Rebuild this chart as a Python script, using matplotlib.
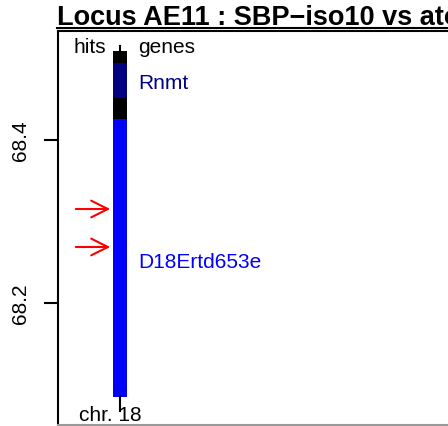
import matplotlib.pyplot as plt
from matplotlib.lines import Line2D

plt.rcParams['font.family'] = ['Liberation Sans', 'DejaVu Sans']

title = "Locus AE11 : SBP\u2212iso10 vs atorvastatin"
chrom_label = "chr. 18"

# chromosome band segments (Mb)
seg_start = [68.4945, 68.4515, 68.4258, 68.0847]
seg_end = [68.5090, 68.4945, 68.4515, 68.4258]
seg_color = ["black", "#000080", "black", "#0000FF"]

# gene labels
gene_names = ["Rnmt", "D18Ertd653e"]
gene_pos = [68.4700, 68.2510]
gene_color = ["#000080", "#0000FF"]

# hits (arrows)
hit_pos = [68.3153, 68.2687]

yticks = [68.2, 68.4]
ylim = (68.0503, 68.5337)

W, H = 448, 427
fig = plt.figure(figsize=(W / 100, H / 100), dpi=100)
ax = fig.add_axes([58 / W, 1 / H, 600 / W, 394 / H])
ax.set_xlim(-62, 538)
ax.set_ylim(*ylim)

bar_w = 14
for s, e, c in zip(seg_start, seg_end, seg_color):
    ax.bar(0, e - s, bottom=s, width=bar_w, color=c, edgecolor="none")

# top and bottom ticks of chromosome
ax.plot([0, 0], [seg_end[0], seg_end[0] + 0.0065], color="black", lw=1.5)
ax.plot([0, 0], [seg_start[-1], seg_start[-1] - 0.017], color="black", lw=1.5)

for name, p, c in zip(gene_names, gene_pos, gene_color):
    ax.text(18, p, name, color=c, fontsize=15, va="center", ha="left")

for h in hit_pos:
    ax.annotate("", xy=(-7, h), xytext=(-47, h),
                arrowprops=dict(arrowstyle="->,head_length=1.2,head_width=0.6",
                                color="red", lw=1.5))

ax.text(-30, seg_end[0] + 0.0055, "hits", fontsize=15, ha="center", va="center")
ax.text(18, seg_end[0] + 0.0055, "genes", fontsize=15, ha="left", va="center")
ax.text(-10, seg_start[-1] - 0.0215, chrom_label, fontsize=15, ha="center", va="center")

ax.set_yticks(yticks)
ax.set_yticklabels([str(t) for t in yticks], rotation=90, va="center", fontsize=15)
ax.tick_params(axis="y", length=10, width=1.5, pad=10)
ax.set_xticks([])
for sp in ax.spines.values():
    sp.set_linewidth(1.5)
ax.spines["bottom"].set_color("#999999")

fig.text(57 / W, 1 - 18 / H, title, fontsize=19.5, fontweight="bold",
         ha="left", va="center")
fig.add_artist(Line2D([57 / W, 1.5], [1 - 29 / H, 1 - 29 / H], color="black",
                      lw=1.5, transform=fig.transFigure))

fig.savefig("out.png", dpi=100)
